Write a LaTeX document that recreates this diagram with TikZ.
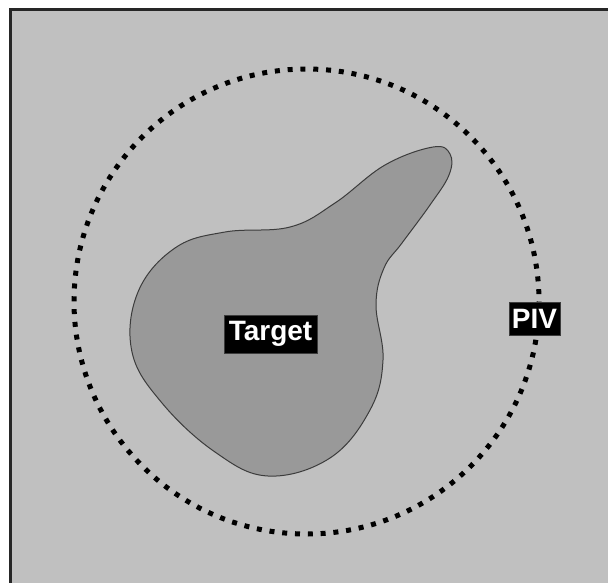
\documentclass[tikz,border=0pt]{standalone}
\usepackage{fontspec}
\setmainfont{Liberation Sans}
\definecolor{bgray}{RGB}{192,192,192}
\definecolor{tgray}{RGB}{153,153,153}
\definecolor{edge}{RGB}{60,60,60}
\begin{document}
\begin{tikzpicture}[x=1pt,y=-1pt,
  lbl/.style={fill=black,text=white,font=\fontsize{28}{30}\selectfont\bfseries,inner sep=0pt,draw=edge,line width=0.6pt}]
\useasboundingbox (0,0) rectangle (608,582);
\clip (0,0) rectangle (608,582);
\draw[fill=bgray,draw=black!85,line width=3pt] (10,9) rectangle (620,600);
\draw[fill=tgray,draw=edge,line width=1pt] plot[smooth cycle,tension=0.65] coordinates {
 (433,147) (450,154) (449,175) (430,205) (402,243) (384,268) (376,305) (383,360) (370,410) (330,458) (268,476) (215,452) (162,403) (132,352) (138,292) (175,248) (225,232) (290,227) (335,203) (385,165)};
\draw[line width=5pt,dash pattern=on 5pt off 7.82pt] (306.5,301.5) circle[radius=232.5];
\node[lbl,minimum width=93pt,minimum height=38pt] (target) at (270.5,334) {Target};
\node[lbl,minimum width=51pt,minimum height=33pt] (piv) at (534.5,318.5) {PIV};
\end{tikzpicture}
\end{document}
